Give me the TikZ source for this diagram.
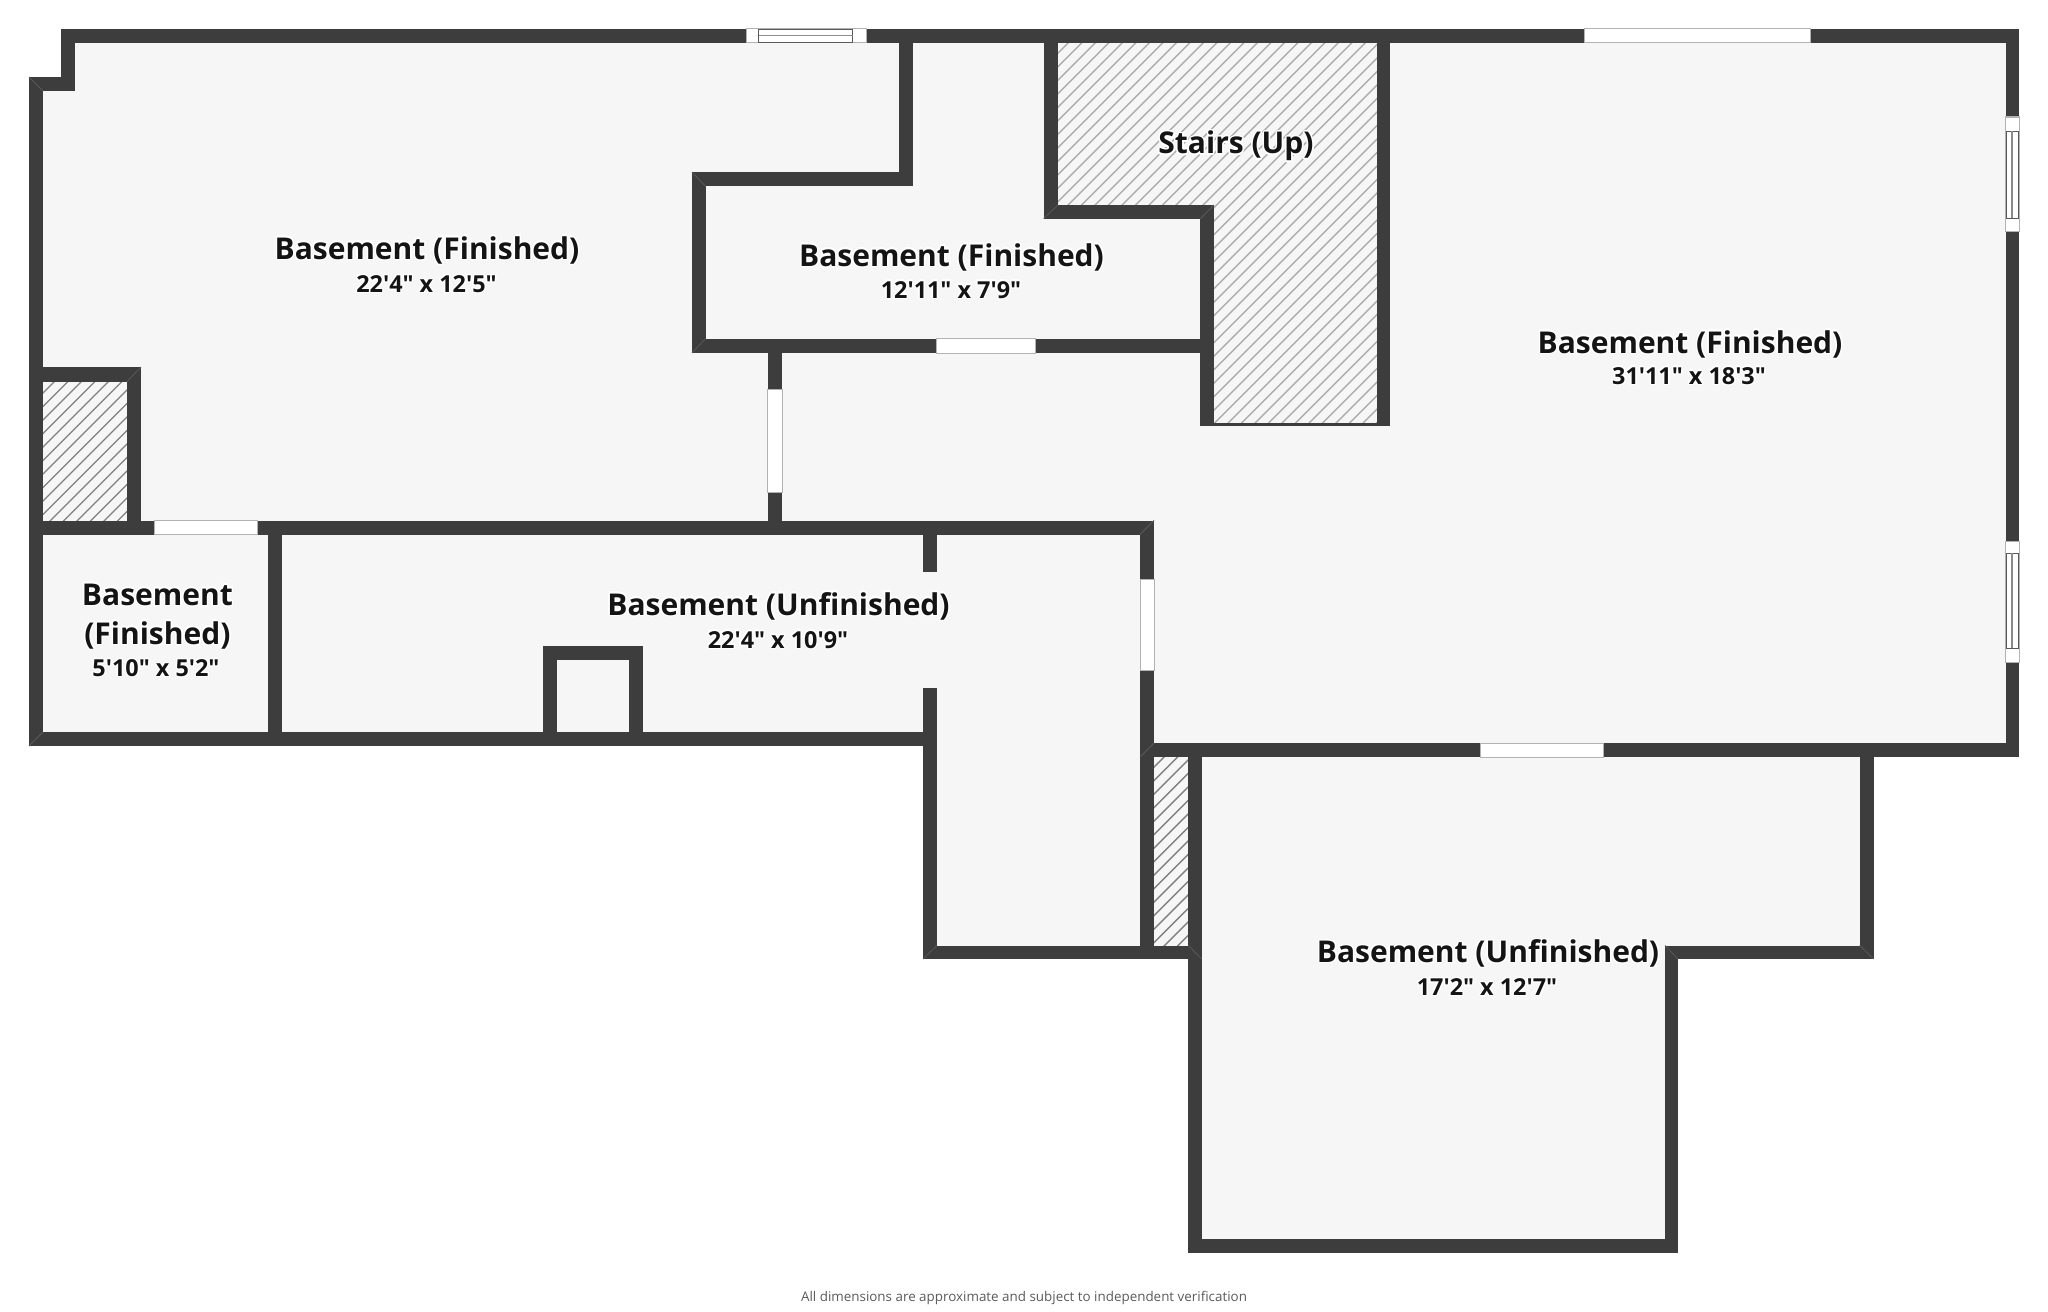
\documentclass[tikz,border=0pt]{standalone}
\usepackage{xcolor}
\usepackage{fontspec}
\usepackage[copies]{contour}
\newfontfamily\planfont{Open Sans}
\contourlength{0.7pt}
\contournumber{24}
\definecolor{wallgray}{HTML}{3D3D3D}
\definecolor{floorgray}{HTML}{F6F6F6}
\definecolor{textgray}{HTML}{5A5A5A}
\begin{document}
\begin{tikzpicture}[
  x=0.5pt, y=-0.5pt,
  floor/.style={fill=floorgray},
  wall/.style={fill=wallgray},
  mitre/.style={draw=gray!70!black, line width=0.4pt},
  hatch/.style={line width=0.7pt},
  win/.style={fill=white, draw=black!30, line width=0.5pt},
  frame/.style={draw=wallgray!85, line width=0.5pt},
  pane/.style={draw=black!45, line width=0.8pt},
  roomname/.style={anchor=base, inner sep=0pt, font=\planfont\bfseries\fontsize{15}{18}\selectfont, text=black!92},
  roomsize/.style={anchor=base, inner sep=0pt, font=\planfont\bfseries\fontsize{11.7}{14}\selectfont, text=black!92}
]
\useasboundingbox (0,0) rectangle (2048,1311);

% floor
\fill[floor] (61,29) -- (2019,29) -- (2019,757) -- (1873.6,757) -- (1873.6,959) -- (1678,959)
  -- (1678,1253) -- (1188.4,1253) -- (1188.4,959) -- (923,959) -- (923,746) -- (29,746)
  -- (29,77) -- (61,77) -- cycle;

% hatched parts
\foreach \hatcharea/\hatchshade in {
  {(1058,43) -- (1377,43) -- (1377,423) -- (1214,423) -- (1214,218) -- (1058,218) -- cycle}/32,
  {(43,381.5) -- (127,381.5) -- (127,520.5) -- (43,520.5) -- cycle}/50,
  {(1154,757) -- (1188.4,757) -- (1188.4,945.5) -- (1154,945.5) -- cycle}/50
}{
  \begin{scope}
    \clip \hatcharea;
    \foreach \c in {4,17.5,...,2400}
      \draw[hatch, draw=black!\hatchshade] (\c,0) -- (0,\c);
  \end{scope}
}

% walls
\foreach \xa/\ya/\xb/\yb in {
  61/29/746/43, 866/29/1584/43, 1810/29/2019/43,
  61/29/74.5/91, 29/77/74.5/91, 29/77/43/746,
  2005.5/29/2019/117, 2005.5/231/2019/541, 2005.5/662/2019/757,
  1140/743/1480/757, 1603.5/743/2019/757,
  1859.7/743/1873.6/959, 1665/945.5/1873.6/959,
  1665/945.5/1678/1253, 1188.4/1239/1678/1253, 1188.4/743/1201.6/1253,
  923/945.5/1201.6/959,
  1140/520.5/1154/579, 1140/670/1154/959,
  923/520.5/937/572, 923/688/937/959,
  29/520.5/154/534.5, 257/520.5/1154/534.5,
  29/732/937/746,
  29/367/141/381.5, 127/367/141/534.5,
  268/534/282/732,
  543/645.7/643/660, 543/645.7/557/732, 629/645.7/643/732,
  767.5/353/782/389, 767.5/492/782/521,
  692/172/912.5/186.4, 692/172/705.5/353, 692/338.6/936.6/353, 1035/338.6/1200.4/353,
  899/29/912.5/186.4,
  1043.6/29/1058/218.6, 1043.6/205/1214/218.6, 1200.4/205/1214/425.7,
  1377/29/1390.4/425.7, 1200.4/423/1390.4/425.7}
  \fill[wall] (\xa,\ya) rectangle (\xb,\yb);

% corner joints
\foreach \xa/\ya/\xb/\yb in {
  1154/520.5/1140/534.5, 1214/205/1200.4/218.6, 1043.6/218.6/1058/205,
  29/77/43/91, 692/172/705.5/186.4, 692/353/705.5/338.6,
  141/367/127/381.5, 29/746/43/732, 923/959/937/945.5,
  1873.6/959/1859.7/945.5, 1154/743/1140/757, 1201.6/959/1188.4/945.5,
  1665/945.5/1678/959}
  \draw[mitre] (\xa,\ya) -- (\xb,\yb);

% openings
\foreach \xa/\ya/\xb/\yb in {
  1584/29/1810/43, 154/520.5/257/534.5, 936.6/338.6/1035/353,
  767.5/389/782/492, 1140/579/1154/670, 1480/743/1603.5/757,
  746/29/866/43, 2005.5/117/2019/231, 2005.5/541/2019/662}
  \filldraw[win] (\xa,\ya) rectangle (\xb,\yb);

% framed windows
\draw[frame] (758.5,29.5) rectangle (852.5,42.5);
\draw[pane] (758.5,35.5) -- (852.5,35.5);
\foreach \ya/\yb in {131/218, 553/648} {
  \draw[frame] (2006,\ya) rectangle (2018.5,\yb);
  \draw[pane] (2012,\ya) -- (2012,\yb);
}

% labels
\node[roomname] (westname) at (427,259) {\contour{white}{Basement (Finished)}};
\node[roomsize] (westsize) at (426.5,292.5) {\contour{white}{22'4" x 12'5"}};
\node[roomname] (midname) at (951.5,266) {\contour{white}{Basement (Finished)}};
\node[roomsize] (midsize) at (951,298) {\contour{white}{12'11" x 7'9"}};
\node[roomname] (stairsname) at (1236,154) {\contour{white}{Stairs (Up)}};
\node[roomname] (eastname) at (1690,353) {\contour{white}{Basement (Finished)}};
\node[roomsize] (eastsize) at (1689,384.3) {\contour{white}{31'11" x 18'3"}};
\node[roomname] (smallname) at (157.4,605) {\contour{white}{Basement}};
\node[roomname] (smallnametwo) at (157.4,644) {\contour{white}{(Finished)}};
\node[roomsize] (smallsize) at (156,676.5) {\contour{white}{5'10" x 5'2"}};
\node[roomname] (hallname) at (778.5,615) {\contour{white}{Basement (Unfinished)}};
\node[roomsize] (hallsize) at (778,648) {\contour{white}{22'4" x 10'9"}};
\node[roomname] (southname) at (1488,962.5) {\contour{white}{Basement (Unfinished)}};
\node[roomsize] (southsize) at (1487,995.5) {\contour{white}{17'2" x 12'7"}};
\node[anchor=base, inner sep=0pt, font=\planfont\fontsize{6.7}{8}\selectfont, text=textgray] (note) at (1024,1301) {All dimensions are approximate and subject to independent verification};
\end{tikzpicture}
\end{document}
